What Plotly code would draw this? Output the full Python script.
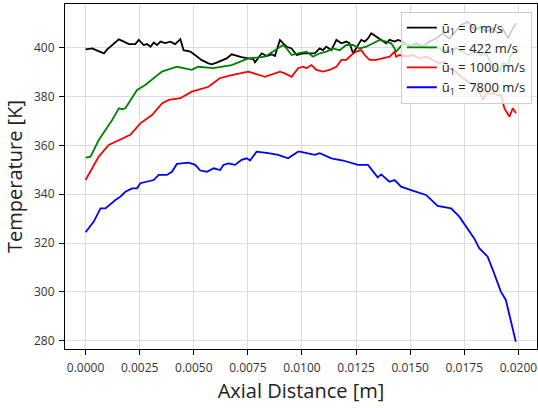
import plotly.graph_objects as go

# ---- data ----
x_black = [0, 0.00031, 0.00054, 0.00085, 0.0010, 0.00131, 0.00154, 0.00177, 0.0020, 0.0023,
           0.00246, 0.00269, 0.00284, 0.0030, 0.00315, 0.0033, 0.00346, 0.00368, 0.00392, 0.00414,
           0.00438, 0.00453, 0.00484, 0.00506, 0.00537, 0.00568, 0.00583, 0.00606, 0.00629, 0.00652,
           0.00675, 0.00698, 0.00721, 0.00752, 0.00775, 0.00783, 0.00814, 0.00837, 0.0086, 0.00875,
           0.00898, 0.00913, 0.00929, 0.00952, 0.00975, 0.01005, 0.01036, 0.01059, 0.01082, 0.01097,
           0.01113, 0.01136, 0.01159, 0.01182, 0.01205, 0.0122, 0.01236, 0.01259, 0.01274, 0.0129,
           0.01305, 0.0132, 0.01343, 0.01366, 0.01389, 0.01405, 0.01428, 0.01443, 0.01466, 0.01497,
           0.01528, 0.01558, 0.01589, 0.0162, 0.0165, 0.01681, 0.01712, 0.01735, 0.01767, 0.01797,
           0.01828, 0.01851, 0.01882, 0.01905, 0.01928, 0.01951, 0.01966, 0.01982, 0.01989]
t_black = [399.3, 399.7, 398.8, 397.7, 399.3, 401.5, 403.4, 402.5, 401.5, 401.5,
           403.2, 401.1, 401.5, 400.4, 402.1, 401.1, 402.5, 401.9, 402.5, 401.5,
           403.5, 399.0, 398.4, 397.0, 394.9, 393.6, 393.2, 393.9, 394.9, 395.6,
           397.3, 396.6, 396.1, 395.6, 395.3, 394.0, 397.7, 396.6, 397.3, 396.6,
           403.2, 401.8, 400.4, 399.7, 397.0, 397.7, 397.7, 397.7, 399.7, 399.0,
           400.4, 399.0, 403.2, 401.8, 402.5, 401.8, 397.7, 401.1, 403.2, 402.5,
           403.8, 405.9, 404.5, 403.2, 401.8, 403.2, 402.5, 403.2, 402.5, 400.4,
           401.8, 400.4, 402.5, 403.8, 405.9, 403.8, 407.2, 409.3, 410.6, 407.2,
           408.6, 406.6, 407.9, 405.9, 407.9, 403.8, 406.6, 409.3, 410.0]

x_green = [0, 0.00023, 0.00061, 0.00123, 0.00154, 0.00169, 0.00184, 0.00238, 0.00276, 0.00353,
           0.00422, 0.00491, 0.0052, 0.0059, 0.00675, 0.00752, 0.00829, 0.00898, 0.00913, 0.00929,
           0.00952, 0.00982, 0.01021, 0.01051, 0.01082, 0.01113, 0.01143, 0.01174, 0.01205, 0.01236,
           0.01266, 0.01297, 0.01328, 0.01359, 0.01389, 0.01412, 0.01428, 0.01435, 0.01466, 0.01497,
           0.01528, 0.01558, 0.01589, 0.0162, 0.0165, 0.01681, 0.01712, 0.01743, 0.01767, 0.01797,
           0.01828, 0.01851, 0.01874, 0.01897, 0.01912, 0.01928, 0.01951, 0.01966, 0.01982, 0.01989]
t_green = [355.0, 355.4, 362.2, 370.4, 375.2, 374.8, 375.2, 382.7, 384.7, 390.2,
           392.2, 390.9, 392.2, 391.6, 392.9, 395.6, 396.3, 400.4, 401.1, 399.7,
           397.0, 397.7, 398.4, 396.3, 397.7, 398.4, 399.7, 399.0, 401.1, 401.1,
           399.7, 400.4, 401.8, 403.2, 402.5, 401.8, 399.7, 398.4, 401.5, 401.1,
           400.4, 401.1, 399.7, 400.4, 399.0, 398.4, 399.7, 398.4, 397.0, 398.4,
           397.0, 397.7, 393.6, 390.9, 390.2, 393.6, 392.9, 397.0, 399.0, 399.7]

x_red = [0, 0.00023, 0.00061, 0.00107, 0.00169, 0.00207, 0.00253, 0.00307, 0.00353, 0.00384,
         0.00438, 0.00491, 0.0052, 0.00568, 0.0062, 0.00675, 0.00752, 0.00829, 0.00898, 0.00921,
         0.00952, 0.00982, 0.01005, 0.01021, 0.01044, 0.01067, 0.01097, 0.01128, 0.01159, 0.01182,
         0.01205, 0.01228, 0.01251, 0.01274, 0.0129, 0.01312, 0.01343, 0.01374, 0.01405, 0.01428,
         0.01435, 0.01451, 0.01481, 0.01512, 0.01543, 0.01574, 0.01604, 0.01635, 0.01658, 0.01681,
         0.01712, 0.01735, 0.01767, 0.01797, 0.0182, 0.01836, 0.01851, 0.01882, 0.01905, 0.0192,
         0.01935, 0.01959, 0.01974, 0.01989]
t_red = [345.8, 349.2, 355.4, 360.2, 362.9, 364.3, 369.0, 372.4, 377.2, 378.6,
         379.3, 382.0, 382.7, 384.0, 387.5, 388.8, 390.2, 388.1, 390.2, 389.5,
         388.1, 391.6, 392.2, 391.6, 392.9, 390.9, 390.2, 390.9, 392.2, 395.0,
         395.0, 397.0, 398.4, 399.0, 397.0, 395.0, 395.0, 395.7, 396.3, 398.4,
         396.3, 397.0, 396.3, 397.0, 395.7, 396.3, 395.0, 393.6, 394.3, 391.6,
         390.2, 388.1, 386.1, 384.7, 382.0, 378.6, 381.3, 381.3, 380.6, 380.6,
         375.2, 371.7, 375.2, 373.1]

x_blue = [0, 0.00038, 0.00069, 0.00092, 0.00138, 0.00161, 0.00184, 0.00215, 0.00238, 0.00253,
          0.00315, 0.00338, 0.00376, 0.00399, 0.00422, 0.00476, 0.00507, 0.0053, 0.00561, 0.00592,
          0.00622, 0.00637, 0.0066, 0.00691, 0.00721, 0.00745, 0.0076, 0.0079, 0.00844, 0.0089,
          0.00936, 0.00959, 0.00982, 0.0099, 0.01059, 0.01082, 0.01136, 0.0119, 0.01259, 0.01305,
          0.0135, 0.01366, 0.01404, 0.01428, 0.01458, 0.01504, 0.01573, 0.01627, 0.01689, 0.01727,
          0.01758, 0.01796, 0.01819, 0.01858, 0.01888, 0.01919, 0.01942, 0.01965, 0.01988]
t_blue = [324.4, 328.8, 334.2, 334.2, 337.6, 339.0, 341.0, 342.4, 342.4, 344.5,
          345.8, 347.9, 347.9, 349.2, 352.4, 352.9, 352.0, 349.7, 349.2, 350.6,
          349.9, 352.0, 352.6, 352.0, 354.1, 354.7, 353.8, 357.4, 356.8, 356.1,
          354.7, 356.1, 357.4, 357.4, 356.1, 356.8, 354.7, 353.8, 352.0, 352.0,
          346.9, 348.1, 345.1, 345.8, 343.1, 341.7, 339.7, 335.2, 334.2, 330.8,
          326.7, 321.9, 317.9, 314.4, 307.6, 300.1, 296.7, 288.5, 279.6]

series = [
    ("ū<sub>1</sub> = 0 m/s", x_black, t_black, "black"),
    ("ū<sub>1</sub> = 422 m/s", x_green, t_green, "green"),
    ("ū<sub>1</sub> = 1000 m/s", x_red, t_red, "red"),
    ("ū<sub>1</sub> = 7800 m/s", x_blue, t_blue, "blue"),
]

x_ticks = [0.0, 0.0025, 0.005, 0.0075, 0.01, 0.0125, 0.015, 0.0175, 0.02]
y_ticks = [280, 300, 320, 340, 360, 380, 400]

fig = go.Figure()
for name, xs, ts, col in series:
    fig.add_trace(go.Scatter(x=xs, y=ts, mode="lines", name=name,
                             line=dict(color=col, width=1.8)))

font_family = "Open Sans, DejaVu Sans, sans-serif"
axis_common = dict(
    showline=True, linecolor="black", linewidth=1, mirror=True,
    showgrid=True, gridcolor="#dcdcdc", gridwidth=1,
    ticks="outside", ticklen=5, tickcolor="black", tickwidth=1,
    zeroline=False,
    tickfont=dict(size=12, color="#333", family=font_family),
)

fig.update_layout(
    width=538, height=408,
    margin=dict(l=65, r=1, t=4, b=59),
    paper_bgcolor="white", plot_bgcolor="white",
    font=dict(family=font_family),
    xaxis=dict(range=[-0.00095, 0.02086], tickvals=x_ticks,
               ticktext=[f"{v:.4f}" for v in x_ticks],
               ticklabelstandoff=3,
               title=dict(text="Axial Distance [m]", font=dict(size=20, color="#222"), standoff=8),
               **axis_common),
    yaxis=dict(range=[276.6, 417.9], tickvals=y_ticks,
               ticklabelstandoff=2,
               title=dict(text="Temperature [K]", font=dict(size=20, color="#222"), standoff=6),
               **axis_common),
    legend=dict(x=0.989, y=0.978, xanchor="right", yanchor="top",
                bgcolor="rgba(255,255,255,0.8)", bordercolor="#cccccc", borderwidth=1,
                font=dict(size=13, color="#222"), tracegroupgap=0),
    showlegend=True,
)

fig.write_html("out.html")
